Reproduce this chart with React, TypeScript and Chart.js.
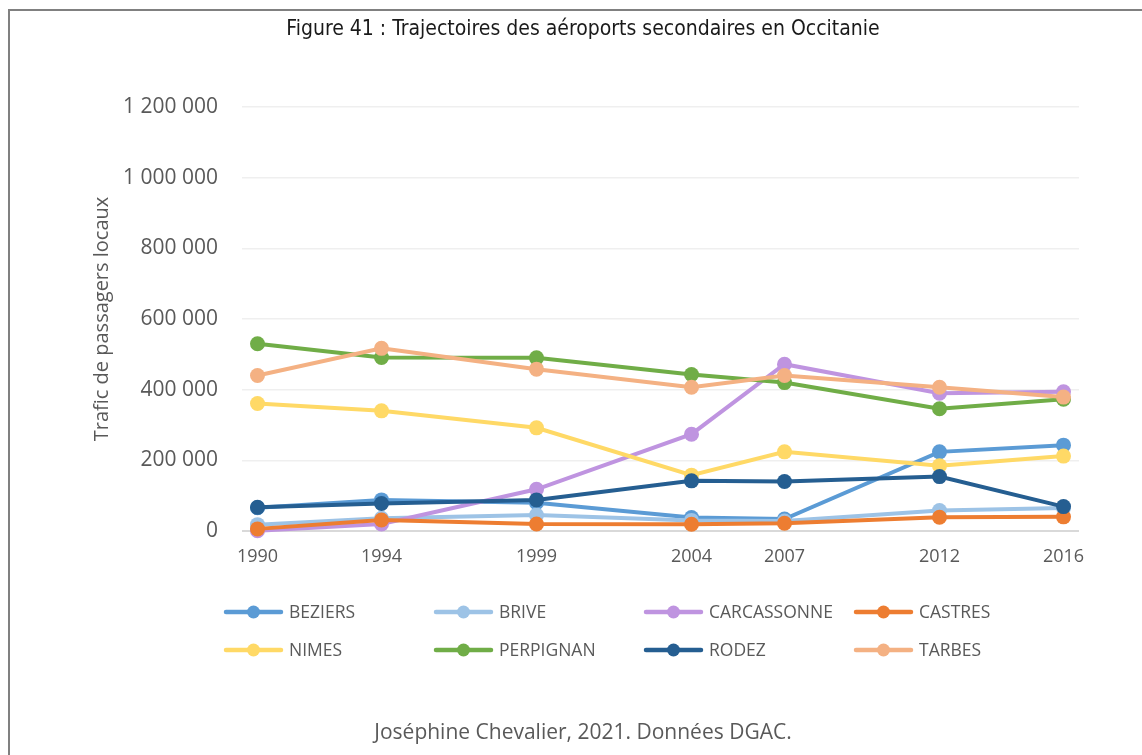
import React, { useEffect, useRef } from 'react';
import { Chart, registerables } from 'chart.js';

Chart.register(...registerables);

const years = [1990, 1994, 1999, 2004, 2007, 2012, 2016];
const seriesNames = ['BEZIERS', 'BRIVE', 'CARCASSONNE', 'CASTRES', 'NIMES', 'PERPIGNAN', 'RODEZ', 'TARBES'];
const beziers = [66000, 88000, 80000, 38000, 34000, 224000, 243000];
const brive = [18000, 36000, 45000, 30000, 28000, 58000, 65000];
const carcassonne = [1000, 20000, 118000, 274000, 472000, 390000, 394000];
const castres = [6000, 31000, 20000, 19000, 22000, 39000, 40000];
const nimes = [361000, 340000, 292000, 158000, 224000, 185000, 212000];
const perpignan = [530000, 491000, 490000, 443000, 420000, 346000, 373000];
const rodez = [67000, 78000, 88000, 142000, 140000, 154000, 69000];
const tarbes = [440000, 517000, 458000, 407000, 440000, 407000, 379000];
const seriesValues = [beziers, brive, carcassonne, castres, nimes, perpignan, rodez, tarbes];
const seriesColors = ['#5B9BD5', '#9DC3E6', '#BF94E0', '#ED7D31', '#FFD966', '#70AD47', '#255E91', '#F4B183'];
const yTicks = [0, 200000, 400000, 600000, 800000, 1000000, 1200000];

const titleText = 'Figure 41 : Trajectoires des aéroports secondaires en Occitanie';
const captionText = 'Joséphine Chevalier, 2021. Données DGAC.';
const yAxisTitle = 'Trafic de passagers locaux';

const GRAY = '#595959';
const FONT = '"Open Sans", sans-serif';

const fmt = (v: number) => String(v).replace(/\B(?=(\d{3})+(?!\d))/g, ' ');

const legendPlugin = {
  id: 'gridLegend',
  afterDraw(chart: any) {
    const ctx = chart.ctx;
    ctx.save();
    chart.data.datasets.forEach((ds: any, i: number) => {
      const col = i % 4;
      const row = Math.floor(i / 4);
      const x0 = 226 + col * 210;
      const y = 612 + row * 38;
      ctx.strokeStyle = ds.borderColor;
      ctx.lineWidth = 4.5;
      ctx.lineCap = 'round';
      ctx.beginPath();
      ctx.moveTo(x0, y);
      ctx.lineTo(x0 + 55, y);
      ctx.stroke();
      ctx.fillStyle = ds.borderColor;
      ctx.beginPath();
      ctx.arc(x0 + 27.5, y, 6.5, 0, Math.PI * 2);
      ctx.fill();
      ctx.fillStyle = GRAY;
      ctx.font = '17.5px ' + FONT;
      ctx.textAlign = 'left';
      ctx.textBaseline = 'middle';
      ctx.fillText(ds.label, x0 + 63, y + 1);
    });
    ctx.restore();
  },
};

export default function App() {
  const ref = useRef<HTMLCanvasElement | null>(null);

  useEffect(() => {
    if (!ref.current) return;
    const n = seriesNames.length;
    const chart = new Chart(ref.current, {
      type: 'line',
      data: {
        datasets: seriesNames.map((name, i) => ({
          label: name,
          data: years.map((yr, j) => ({ x: yr, y: seriesValues[i][j] })),
          borderColor: seriesColors[i],
          backgroundColor: seriesColors[i],
          pointBackgroundColor: seriesColors[i],
          pointBorderWidth: 0,
          pointRadius: 7.5,
          borderWidth: 4,
          tension: 0,
          fill: false,
          order: n - i,
          clip: false as any,
        })),
      },
      options: {
        animation: false,
        responsive: false,
        devicePixelRatio: 1,
        layout: { padding: { left: 24, right: 0, top: 0, bottom: 0 } },
        plugins: {
          legend: { display: false },
          tooltip: { enabled: false },
          title: {
            display: true,
            text: titleText,
            color: '#1a1a1a',
            font: { family: '"DejaVu Sans Condensed", "DejaVu Sans", sans-serif', size: 21, weight: 'normal' },
            padding: { top: 17.4, bottom: 64.4 },
          },
          subtitle: {
            display: true,
            position: 'bottom',
            text: captionText,
            color: GRAY,
            font: { family: FONT, size: 21 },
            padding: { top: 0, bottom: 9.4 },
          },
        },
        scales: {
          x: {
            type: 'linear',
            min: 1989.5,
            max: 2016.5,
            grid: { display: false, drawTicks: false },
            border: { display: false },
            ticks: {
              color: GRAY,
              font: { family: FONT, size: 18 },
              padding: 15,
              autoSkip: false,
              maxRotation: 0,
              callback: (v: any) => String(v),
            },
            afterBuildTicks: (scale: any) => {
              scale.ticks = years.map((v) => ({ value: v }));
            },
            afterFit: (scale: any) => {
              scale.height = 189.4;
            },
          },
          y: {
            type: 'linear',
            min: 0,
            max: 1200000,
            grid: {
              drawTicks: false,
              color: (c: any) => (c.tick && c.tick.value === 0 ? '#d9d9d9' : '#efefef'),
              lineWidth: (c: any) => (c.tick && c.tick.value === 0 ? 2 : 1.5),
            },
            border: { display: false },
            ticks: {
              color: GRAY,
              font: { family: FONT, size: 21 },
              padding: 24,
              callback: (v: any) => fmt(Number(v)),
            },
            afterBuildTicks: (scale: any) => {
              scale.ticks = yTicks.map((v) => ({ value: v }));
            },
            title: {
              display: true,
              text: yAxisTitle,
              color: GRAY,
              font: { family: FONT, size: 20 },
              padding: { top: 66, bottom: 0 },
            },
            afterFit: (scale: any) => {
              scale.width = 218;
            },
          },
          yRight: {
            type: 'linear',
            position: 'right',
            display: true,
            grid: { display: false, drawTicks: false },
            border: { display: false },
            ticks: { display: false },
            afterFit: (scale: any) => {
              scale.width = 63;
            },
          },
        },
      },
      plugins: [legendPlugin],
    } as any);
    return () => chart.destroy();
  }, []);

  return (
    <div style={{ position: 'fixed', left: 0, top: 0, width: 1142, height: 755, overflow: 'hidden', background: '#fff' }}>
      <div
        style={{
          position: 'absolute',
          left: 8,
          top: 9,
          width: 1200,
          height: 800,
          border: '2px solid #808080',
          boxSizing: 'border-box',
          pointerEvents: 'none',
        }}
      />
      <canvas ref={ref} width={1142} height={755} style={{ position: 'absolute', left: 0, top: 0, width: 1142, height: 755 }} />
    </div>
  );
}
